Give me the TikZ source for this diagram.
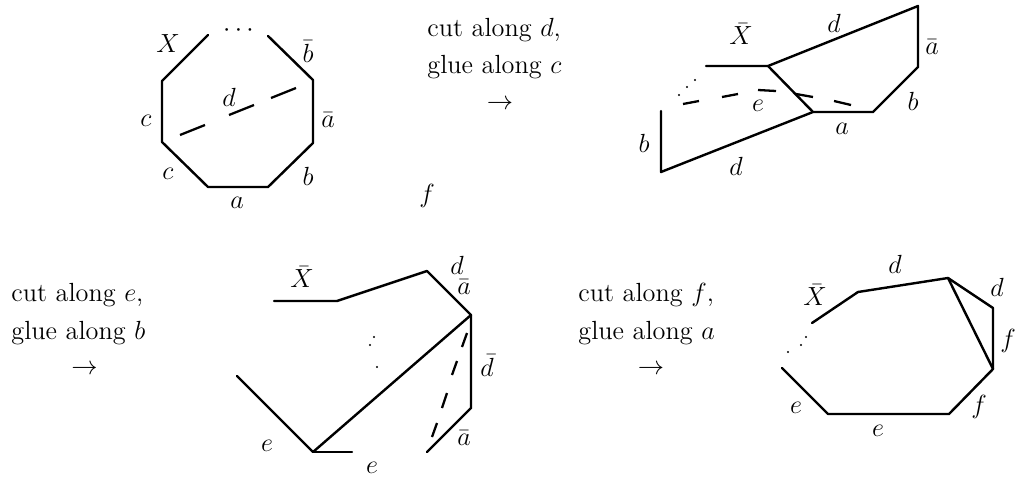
\documentclass[tikz,border=0pt]{standalone}
\tikzset{
  seg/.style={line width=1.1pt,line cap=round,line join=round},
  dsh/.style={line width=1.05pt},
  lbl/.style={inner sep=0pt,anchor=center,font=\fontsize{12}{14}\selectfont},
  capt/.style={inner sep=0pt,anchor=base west,font=\fontsize{12}{14}\selectfont},
}
\newcommand{\dotat}[1]{\fill #1 circle (1.2);}
\begin{document}
\begin{tikzpicture}[x=0.457pt,y=-0.457pt]
\useasboundingbox (0,0) rectangle (1017,480);
% figure 1
\draw[seg] (208,35) -- (162,81) -- (162,142) -- (208,187) -- (268,187) -- (313,143) -- (313,80) -- (268,36);
\draw[dsh] (180,135) -- (205,125);
\draw[dsh] (229,115) -- (254,105);
\draw[dsh] (271,98) -- (296,88);
\node[lbl] (dots1) at (238.5,31) {$\cdots$};
\node[lbl] (l1) at (168,44) {$X$};
\node[lbl] (l2) at (308,52) {$\bar b$};
\node[lbl] (l3) at (229,97) {$d$};
\node[lbl] (l4) at (328,120) {$\bar a$};
\node[lbl] (l5) at (146,121) {$c$};
\node[lbl] (l6) at (168,174) {$c$};
\node[lbl] (l7) at (308,176) {$b$};
\node[lbl] (l8) at (237,203) {$a$};
% caption 1
\node[capt] (c1a) at (427,37) {cut along $d$,};
\node[capt] (c1b) at (427,74) {glue along $c$};
\node[lbl] (c1c) at (500,105) {$\rightarrow$};
\node[lbl] (f) at (427,196) {$f$};
% figure 2
\draw[seg] (706,66) -- (768,66) -- (918,6) -- (918,67) -- (873,112) -- (813,112) -- (661,172) -- (661,111);
\draw[seg] (768,66) -- (813,112);
\draw[dsh] (683,104) -- (699,101);
\draw[dsh] (722,97) -- (738,94);
\draw[dsh] (758,90) -- (776,91);
\draw[dsh] (796,94) -- (813,97);
\draw[dsh] (834,101) -- (851,105);
\dotat{(679,95)}\dotat{(687,87)}\dotat{(695,80)}
\node[lbl] (m1) at (741,34) {$\bar X$};
\node[lbl] (m2) at (834,23) {$d$};
\node[lbl] (m3) at (932,47) {$\bar a$};
\node[lbl] (m4) at (913,101) {$b$};
\node[lbl] (m5) at (758,106) {$e$};
\node[lbl] (m6) at (842,129) {$a$};
\node[lbl] (m7) at (644,143) {$b$};
\node[lbl] (m8) at (736,166) {$d$};
% caption 2
\node[capt] (c2a) at (11,301) {cut along $e$,};
\node[capt] (c2b) at (11,339) {glue along $b$};
\node[lbl] (c2c) at (84.5,370) {$\rightarrow$};
% figure 3
\draw[seg] (274,301) -- (337,301) -- (427,271) -- (471,315) -- (313,452) -- (237,376);
\draw[seg] (313,452) -- (352,452);
\draw[seg] (471,315) -- (471,408) -- (427,452);
\draw[dsh] (467,333) -- (462,347);
\draw[dsh] (457,361) -- (452,375);
\draw[dsh] (447,393) -- (442,408);
\draw[dsh] (437,423) -- (432,437);
\dotat{(374,337)}\dotat{(370,345)}\dotat{(377,367)}
\node[lbl] (n1) at (302,277) {$\bar X$};
\node[lbl] (n2) at (457,265) {$d$};
\node[lbl] (n3) at (464,287) {$\bar a$};
\node[lbl] (n4) at (487,366) {$\bar d$};
\node[lbl] (n5) at (464,438) {$\bar a$};
\node[lbl] (n6) at (267,446) {$e$};
\node[lbl] (n7) at (372,468) {$e$};
% caption 3
\node[capt] (c3a) at (578,301) {cut along $f$,};
\node[capt] (c3b) at (578,339) {glue along $a$};
\node[lbl] (c3c) at (651,370) {$\rightarrow$};
% figure 4
\draw[seg] (812,323) -- (858,292) -- (948,278) -- (993,308) -- (993,369) -- (949,414) -- (828,414) -- (782,368);
\draw[seg] (948,278) -- (993,369);
\dotat{(806,337)}\dotat{(801,345)}\dotat{(788,352)}
\node[lbl] (p1) at (815,295) {$\bar X$};
\node[lbl] (p2) at (895,264) {$d$};
\node[lbl] (p3) at (997,287) {$d$};
\node[lbl] (p4) at (1008,341) {$f$};
\node[lbl] (p5) at (979,407) {$f$};
\node[lbl] (p6) at (796,408) {$e$};
\node[lbl] (p7) at (878,431) {$e$};
\end{tikzpicture}
\end{document}
